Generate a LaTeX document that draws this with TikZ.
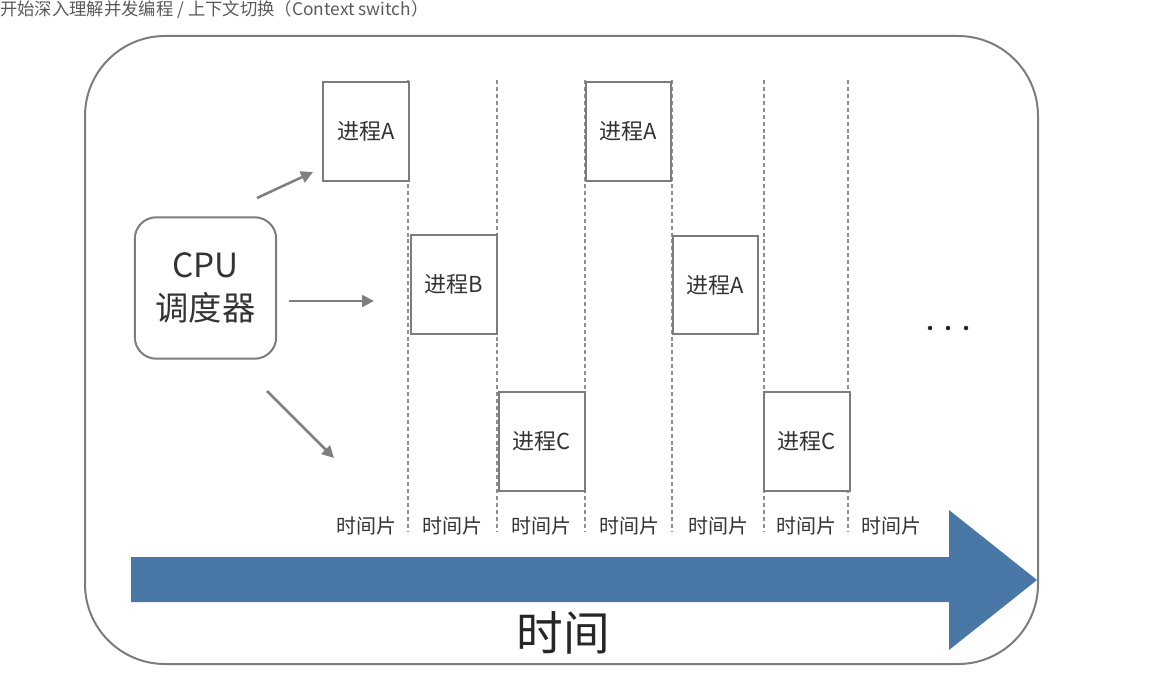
\documentclass[tikz,border=0pt]{standalone}
\usepackage{fontspec}
\setmainfont{Noto Sans CJK SC}
\usetikzlibrary{arrows.meta}
\definecolor{linegray}{HTML}{7C7C7C}
\definecolor{dashgray}{HTML}{8E8E8E}
\definecolor{arrowgray}{HTML}{7F7F7F}
\definecolor{txt}{HTML}{333333}
\definecolor{captiongray}{HTML}{5A5A5A}
\definecolor{timeblue}{HTML}{4A78A6}
\begin{document}
\begin{tikzpicture}[x=0.75pt,y=-0.75pt,
  proc/.style={draw=linegray, line width=1.5pt, fill=white, minimum width=64pt,
    minimum height=74pt, inner sep=0pt, text=txt, font=\fontsize{16.5}{18}\selectfont},
  cpubox/.style={draw=linegray, line width=1.5pt, rounded corners=16pt, minimum width=106pt,
    minimum height=106pt, inner sep=0pt, align=center, text=txt,
    font=\fontsize{25}{32}\selectfont},
  slice/.style={text=txt, inner sep=0pt, font=\fontsize{15}{16}\selectfont},
  sep/.style={draw=dashgray, line width=1.3pt, dash pattern=on 3pt off 2.2pt},
  sched/.style={draw=arrowgray, line width=1.9pt, -{Triangle[length=9pt,width=9pt]}},
  outer/.style={draw=linegray, line width=1.5pt, rounded corners=60pt}
]
\useasboundingbox (0,0) rectangle (1155,677);

% caption
\node[anchor=west, inner sep=0pt, text=captiongray, font=\fontsize{13}{14}\selectfont] (caption) at (0,10) {开始深入理解并发编程 / 上下文切换（Context switch）};

% frame
\draw[outer] (85,36) rectangle (1038,664);

% time slice separators
\foreach \x/\n in {408/s1,497/s2,585/s3,672/s4,764/s5,848/s6}{
  \coordinate (\n top) at (\x,80);
  \coordinate (\n bot) at (\x,532);
  \draw[sep] (\n top) -- (\n bot);
}

% processes
\node[proc] (A1) at (366,131.5) {进程A};
\node[proc] (B1) at (454,284.5) {进程B};
\node[proc] (C1) at (542,441.5) {进程C};
\node[proc] (A2) at (628.5,131.5) {进程A};
\node[proc] (A3) at (715.5,285) {进程A};
\node[proc] (C2) at (807,441.5) {进程C};

% scheduler
\node[cpubox] (cpu) at (205.5,288) {CPU\\调度器};

\coordinate (a1s) at (257,198);
\coordinate (a1e) at (313,172);
\coordinate (a2s) at (289,301);
\coordinate (a2e) at (374,301);
\coordinate (a3s) at (267,391);
\coordinate (a3e) at (334,458);
\draw[sched] (a1s) -- (a1e);
\draw[sched] (a2s) -- (a2e);
\draw[sched] (a3s) -- (a3e);

% dots
\foreach \x/\n in {930/d1,948/d2,966/d3}{
  \fill[black!85] (\x,328) circle (1.7pt) coordinate (\n);
}

% slice labels
\foreach \x/\n in {366/t1,452/t2,541/t3,629/t4,718/t5,806/t6,891/t7}{
  \node[slice] (\n) at (\x,526) {时间片};
}

% time arrow
\fill[timeblue] (131,557) -- (949,557) -- (949,510) -- (1037,580) -- (949,650)
  -- (949,602) -- (131,602) -- cycle;
\node[text=black!85, inner sep=0pt, font=\fontsize{35}{36}\selectfont] (time) at (563,633) {时间};
\end{tikzpicture}
\end{document}
